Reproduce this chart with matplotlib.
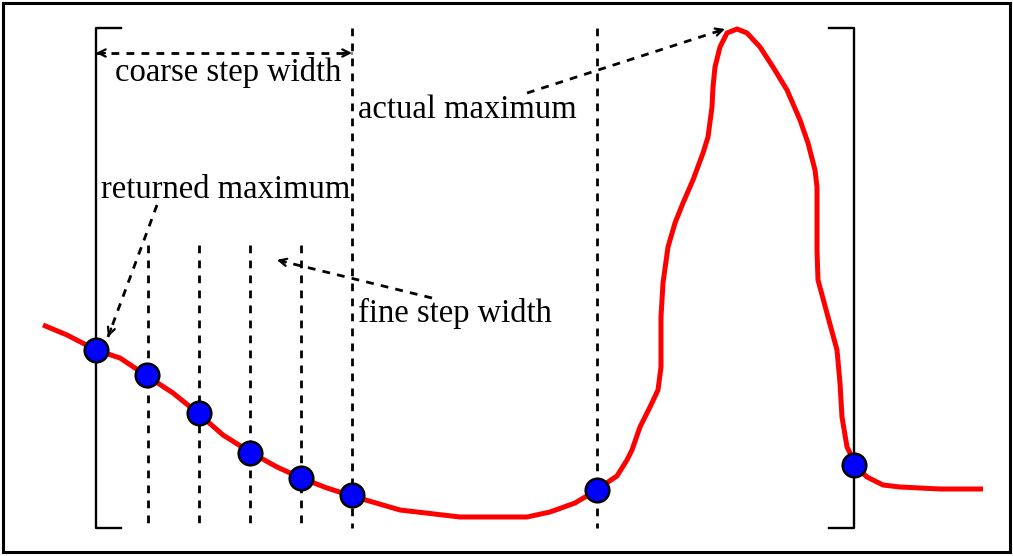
import numpy as np
import matplotlib
matplotlib.use("Agg")
import matplotlib.pyplot as plt
from matplotlib.patches import Rectangle

# -----------------------------
# Values (pixel space, y grows downward)
# -----------------------------

# red objective curve
curve_x = [43, 67, 96, 120, 147, 173, 199, 223, 250, 277, 301, 327, 352,
           400, 460, 527, 550, 575, 597, 605, 617, 627, 632, 640, 650, 658,
           661, 661, 663, 668, 675, 683, 693, 703, 708, 712, 713, 715, 720,
           727, 737, 747, 760, 773, 787, 800, 808, 815, 817, 817, 818, 828,
           837, 840, 842, 847, 852, 854, 867, 883, 900, 940, 983]
curve_y = [325, 335, 350, 358, 376, 393, 414, 435, 452, 467, 478, 488, 496,
           510, 517, 517, 512, 503, 490, 484, 476, 460, 450, 427, 407, 390,
           367, 317, 283, 247, 223, 203, 180, 153, 137, 107, 87, 67, 47,
           33, 29, 33, 47, 67, 90, 120, 143, 170, 187, 250, 280, 317,
           350, 383, 417, 447, 457, 465, 477, 485, 487, 489, 489]

# sampled points (blue)
sample_x = [96, 147, 199, 250, 301, 352, 597, 854]
sample_y = [350, 375, 413, 453, 478, 495, 490, 465]

# grid lines
fine_x = [148, 199, 250, 301]
coarse_x = [352, 597]
bracket_left = 96
bracket_right = 854
line_top = 28
line_bottom = 528
fine_top = 245

# -----------------------------
# Figure
# -----------------------------
fig = plt.figure(figsize=(10.13, 5.56), dpi=100)
ax = fig.add_axes([0, 0, 1, 1])
ax.set_xlim(0, 1013)
ax.set_ylim(556, 0)
ax.axis("off")

font = dict(family=["Liberation Serif", "DejaVu Serif"], fontsize=23.5)
dash = dict(color="black", lw=2, dashes=(2.8, 2.6))


def dashed_arrow(tail, tip, both=False):
    # dashed shaft plus a solid little head at the tip(s)
    ax.plot([tail[0], tip[0]], [tail[1], tip[1]], **dash)
    ends = [(tail, tip), (tip, tail)] if both else [(tail, tip)]
    for a, b in ends:
        d = np.subtract(b, a, dtype=float)
        d /= np.linalg.norm(d)
        ax.annotate("", xy=b, xytext=np.asarray(b) - 9 * d,
                    arrowprops=dict(arrowstyle="->", lw=1.6, color="black",
                                    shrinkA=0, shrinkB=0, mutation_scale=13))


# outer frame
ax.add_patch(Rectangle((3, 3), 1007, 549, fill=False, lw=2.2,
                       edgecolor="black"))

# brackets
ax.plot([bracket_left + 25, bracket_left, bracket_left, bracket_left + 25],
        [line_top, line_top, line_bottom, line_bottom], color="black", lw=1.7)
ax.plot([bracket_right - 25, bracket_right, bracket_right, bracket_right - 25],
        [line_top, line_top, line_bottom, line_bottom], color="black", lw=1.7)

# dashed vertical lines
for x in fine_x:
    ax.plot([x, x], [fine_top, line_bottom], **dash)
for x in coarse_x:
    ax.plot([x, x], [line_top, line_bottom], **dash)

# curve and samples
ax.plot(curve_x, curve_y, color="red", lw=3.6, solid_joinstyle="round",
        solid_capstyle="butt", zorder=3)
ax.plot(sample_x, sample_y, "o", ms=17, mfc="blue", mec="black", mew=1.8,
        zorder=4)

# annotations
dashed_arrow((bracket_left, 53), (coarse_x[0], 53), both=True)
ax.text(115, 72, "coarse step width", va="center", ha="left", **font)

ax.text(358, 110, "actual maximum", va="center", ha="left", **font)
dashed_arrow((527, 93), (725, 29))

ax.text(101, 190, "returned maximum", va="center", ha="left", **font)
dashed_arrow((157, 205), (108, 337))

ax.text(358, 313, "fine step width", va="center", ha="left", **font)
dashed_arrow((432, 298), (277, 260))

fig.savefig("out.png", dpi=100)
